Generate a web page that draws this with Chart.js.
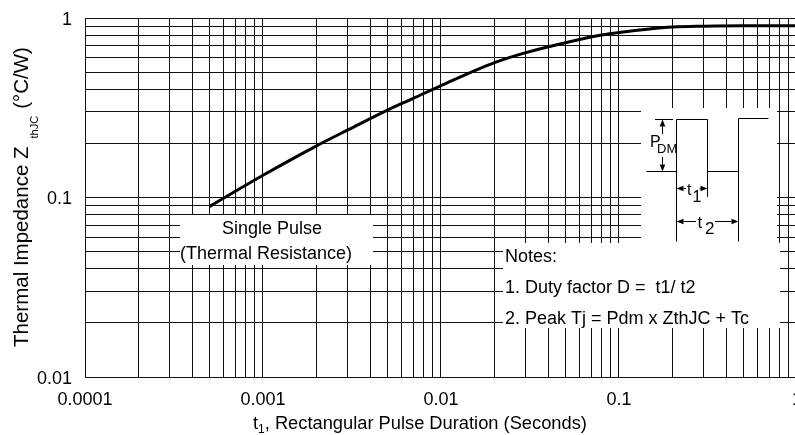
<!DOCTYPE html>
<html><head><meta charset="utf-8">
<script src="https://cdn.jsdelivr.net/npm/chart.js@4/dist/chart.umd.min.js"></script>
<style>
html,body{margin:0;padding:0;overflow:hidden;background:#fff;width:795px;height:435px}
#wrap{position:absolute;left:0;top:0;width:814px;height:435px}
</style></head><body>
<div id="wrap"><canvas id="c"></canvas></div>
<script>
// ---- data ----
const pulseDuration = [0.0005, 0.001, 0.002, 0.003, 0.005, 0.007, 0.01, 0.02, 0.03, 0.05, 0.08, 0.1, 0.2, 0.3, 0.5, 1];
const thermalImpedance = [0.089, 0.133, 0.194, 0.238, 0.307, 0.357, 0.42, 0.564, 0.641, 0.728, 0.804, 0.83, 0.89, 0.9, 0.905, 0.905];
const xTickLabels = ['0.0001', '0.001', '0.01', '0.1', '1'];
const yTickLabels = ['0.01', '0.1', '1'];
const gridMultipliers = [1, 2, 3, 4, 5, 6, 7, 8, 9];

const FONT = "'Liberation Sans', Arial, Helvetica, sans-serif";

function decadeGrid(labels) {
  const decades = labels.map(Number);
  const out = [];
  decades.forEach((d, i) => {
    if (i === decades.length - 1) { out.push(d); return; }
    gridMultipliers.forEach(m => out.push(+(d * m).toPrecision(6)));
  });
  return out;
}
function labelFor(labels) {
  return v => {
    const s = labels.find(l => Math.abs(Math.log10(Number(l)) - Math.log10(v)) < 1e-6);
    return s || '';
  };
}

function arrow(ctx, x1, y1, x2, y2) {
  const ang = Math.atan2(y2 - y1, x2 - x1);
  const L = 7, W = 2.8;
  ctx.beginPath(); ctx.moveTo(x1, y1);
  ctx.lineTo(x2 - L * Math.cos(ang), y2 - L * Math.sin(ang)); ctx.stroke();
  ctx.beginPath();
  ctx.moveTo(x2, y2);
  ctx.lineTo(x2 - L * Math.cos(ang) - W * Math.sin(ang), y2 - L * Math.sin(ang) + W * Math.cos(ang));
  ctx.lineTo(x2 - L * Math.cos(ang) + W * Math.sin(ang), y2 - L * Math.sin(ang) - W * Math.cos(ang));
  ctx.closePath(); ctx.fill();
}
function line(ctx, pts) {
  ctx.beginPath(); ctx.moveTo(pts[0][0], pts[0][1]);
  for (let i = 1; i < pts.length; i++) ctx.lineTo(pts[i][0], pts[i][1]);
  ctx.stroke();
}

const overlay = {
  id: 'overlay',
  beforeDatasetsDraw(chart) {
    const ctx = chart.ctx;
    ctx.save();
    ctx.fillStyle = '#fff';
    ctx.fillRect(180, 215, 193, 50);   // Single Pulse box
    ctx.fillRect(641, 108, 136, 135);  // waveform box
    ctx.fillRect(503, 243, 277, 85);   // notes box
    ctx.restore();
  },
  afterDraw(chart) {
    const ctx = chart.ctx;
    ctx.save();
    ctx.fillStyle = '#000';
    ctx.strokeStyle = '#000';
    ctx.textBaseline = 'alphabetic';
    // axis titles
    ctx.font = '18.3px ' + FONT;
    ctx.textAlign = 'left';
    let x = 253;
    ctx.fillText('t', x, 429); x += ctx.measureText('t').width;
    ctx.font = '12px ' + FONT;
    ctx.fillText('1', x, 433); x += ctx.measureText('1').width;
    ctx.font = '18.3px ' + FONT;
    ctx.fillText(', Rectangular Pulse Duration (Seconds)', x, 429);

    ctx.save();
    ctx.translate(28, 347);
    ctx.rotate(-Math.PI / 2);
    ctx.font = '20.5px ' + FONT;
    let t = 0;
    ctx.fillText('Thermal Impedance Z', 0, 0); t += ctx.measureText('Thermal Impedance Z').width + 8;
    ctx.font = '11px ' + FONT;
    ctx.fillText('thJC', t, 10); t += ctx.measureText('thJC').width + 7;
    ctx.font = '20.5px ' + FONT;
    ctx.fillText('(°C/W)', t, 0);
    ctx.restore();

    // Single pulse label
    ctx.font = '18px ' + FONT;
    ctx.textAlign = 'center';
    ctx.fillText('Single Pulse', 272, 234);
    ctx.fillText('(Thermal Resistance)', 266, 259);

    // Notes
    ctx.textAlign = 'left';
    ctx.fillText('Notes:', 505, 261.5);
    ctx.fillText('1. Duty factor D =  t1/ t2', 505, 293);
    ctx.fillText('2. Peak Tj = Pdm x ZthJC + Tc', 505, 323.5);

    // waveform diagram
    ctx.lineWidth = 1;
    line(ctx, [[676.5, 241.5], [676.5, 119.5], [707.5, 119.5], [707.5, 171.5], [738.5, 171.5], [738.5, 118.5], [768.5, 118.5]]);
    line(ctx, [[738.5, 171.5], [738.5, 241.5]]);
    line(ctx, [[707.5, 171.5], [707.5, 197]]);
    line(ctx, [[655, 119.5], [673, 119.5]]);
    line(ctx, [[646.5, 171.5], [676.5, 171.5]]);
    arrow(ctx, 662.5, 134, 662.5, 119.5);
    arrow(ctx, 662.5, 157, 662.5, 171.5);
    arrow(ctx, 686, 188.5, 676.5, 188.5);
    arrow(ctx, 699.5, 188.5, 707.5, 188.5);
    arrow(ctx, 696, 221.5, 676.5, 221.5);
    arrow(ctx, 715, 221.5, 738.5, 221.5);
    ctx.font = '16px ' + FONT;
    ctx.fillText('P', 650, 146.5);
    ctx.font = '13px ' + FONT;
    ctx.fillText('DM', 657, 153);
    ctx.font = '16px ' + FONT;
    ctx.fillText('t', 687, 195);
    ctx.fillText('1', 692.5, 201.5);
    ctx.font = '17px ' + FONT;
    ctx.fillText('t', 697.5, 227.5);
    ctx.fillText('2', 705, 233.5);
    ctx.restore();
  }
};

Chart.defaults.font.family = FONT;
Chart.defaults.font.size = 18;
Chart.defaults.color = '#000';

const gridOpts = { color: '#111', lineWidth: 1, drawTicks: false };
const borderOpts = { display: true, color: '#111', width: 1 };

new Chart(document.getElementById('c'), {
  type: 'line',
  data: {
    datasets: [{
      data: pulseDuration.map((v, i) => ({ x: v, y: thermalImpedance[i] })),
      borderColor: '#000',
      borderWidth: 3,
      pointRadius: 0,
      fill: false,
      cubicInterpolationMode: 'monotone'
    }]
  },
  options: {
    responsive: true,
    maintainAspectRatio: false,
    animation: false,
    events: [],
    layout: { padding: { left: 0, top: 18, right: 0, bottom: 0 } },
    plugins: { legend: { display: false }, tooltip: { enabled: false }, title: { display: false } },
    scales: {
      x: {
        type: 'logarithmic',
        min: Number(xTickLabels[0]),
        max: Number(xTickLabels[xTickLabels.length - 1]),
        grid: gridOpts,
        border: borderOpts,
        afterBuildTicks: s => { s.ticks = decadeGrid(xTickLabels).map(v => ({ value: v })); },
        afterFit: s => { s.height = 58; },
        ticks: { autoSkip: false, maxRotation: 0, minRotation: 0, padding: 12, callback: labelFor(xTickLabels) }
      },
      y: {
        type: 'logarithmic',
        min: Number(yTickLabels[0]),
        max: Number(yTickLabels[yTickLabels.length - 1]),
        grid: gridOpts,
        border: borderOpts,
        afterBuildTicks: s => { s.ticks = decadeGrid(yTickLabels).map(v => ({ value: v })); },
        afterFit: s => { s.width = 85; },
        ticks: { autoSkip: false, padding: 13, labelOffset: 2, font: { lineHeight: 0.5 }, callback: labelFor(yTickLabels) }
      }
    }
  },
  plugins: [overlay]
});
</script>
</body></html>
